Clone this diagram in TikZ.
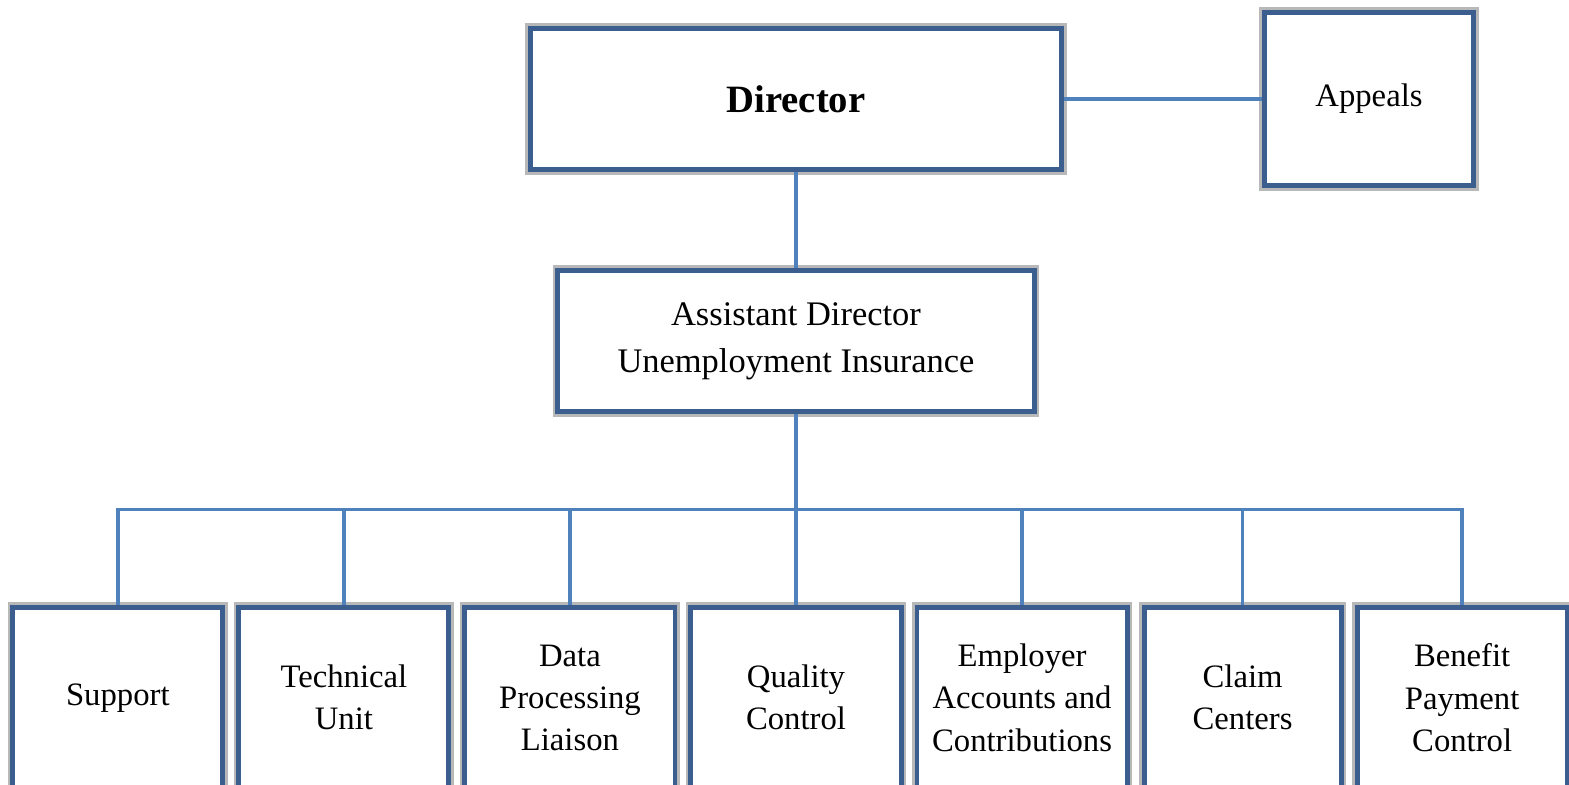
\documentclass[tikz,border=0pt]{standalone}
\usepackage{fontspec}
\setmainfont{Liberation Serif}
\usepackage{xcolor}
\usetikzlibrary{positioning,calc}
\definecolor{boxblue}{RGB}{59,94,143}
\definecolor{lineblue}{RGB}{79,129,189}
\tikzset{box/.style={draw=boxblue,line width=1.4pt,fill=white,align=center,inner sep=2pt,
    preaction={draw=black!28,line width=3pt}},
  unit/.style={box,minimum width=2.1cm,minimum height=1.8cm,font=\fontsize{9.3}{12}\selectfont},
  link/.style={draw=lineblue,line width=1pt}}

\begin{document}
\begin{tikzpicture}[x=0.01cm,y=-0.01cm]
  \clip (0,0) rectangle (1569,785);
  \fill[white] (0,0) rectangle (1569,785);
  \node[box,minimum width=5.31cm,minimum height=1.41cm,font=\fontsize{11}{13}\selectfont\bfseries] (dir) at (796,99) {Director};
  \node[box,minimum width=2.09cm,minimum height=1.73cm,font=\fontsize{9.3}{12}\selectfont] (app) at (1369,99) {Appeals};
  \node[box,minimum width=4.76cm,minimum height=1.41cm,font=\fontsize{9.8}{13.4}\selectfont,below=0.96cm of dir] (asst) {Assistant Director\\Unemployment Insurance};

  \node[unit,below=1.91cm of asst] (qc) {Quality\\Control};
  \node[unit,left=0.11cm of qc] (dpl) {Data\\Processing\\Liaison};
  \node[unit,left=0.11cm of dpl] (tu) {Technical\\Unit};
  \node[unit,left=0.11cm of tu] (sup) {Support};
  \node[unit,right=0.11cm of qc] (eac) {Employer\\Accounts and\\Contributions};
  \node[unit,minimum width=1.97cm,right=0.12cm of eac] (cc) {Claim\\Centers};
  \node[unit,right=0.11cm of cc] (bpc) {Benefit\\Payment\\Control};

  \coordinate (bus) at ($(asst.south)!0.5!(qc.north)$);
  \draw[link] (dir) -- (app);
  \draw[link] (dir) -- (asst);
  \draw[link] (asst) -- (qc);
  \draw[link] (sup.north) -- (sup.north |- bus) -- (bpc.north |- bus) -- (bpc.north);
  \draw[link] (tu.north) -- (tu.north |- bus);
  \draw[link] (dpl.north) -- (dpl.north |- bus);
  \draw[link] (eac.north) -- (eac.north |- bus);
  \draw[link] (cc.north) -- (cc.north |- bus);
\end{tikzpicture}
\end{document}
